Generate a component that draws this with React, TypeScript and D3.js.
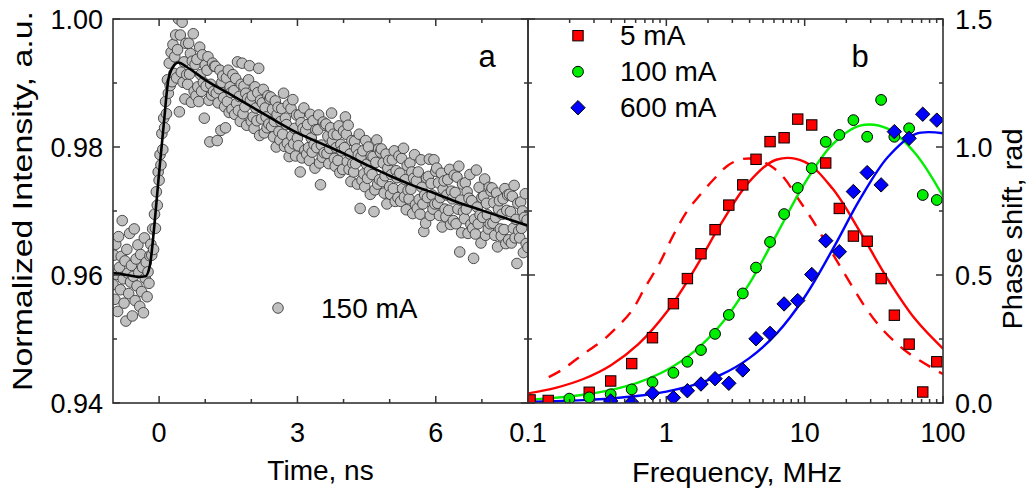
import React from "react";
import * as d3 from "d3";

// ---------- Panel a: time-resolved intensity (150 mA) ----------
const timeStart = -1;
const timeStep = 0.02;
const intensity150mA = [
  0.9585, 0.9631, 0.9562, 0.9648, 0.9601, 0.9543, 0.9660, 0.9612, 0.9577, 0.9629,
  0.9685, 0.9594, 0.9556, 0.9622, 0.9528, 0.9640, 0.9603, 0.9571, 0.9665, 0.9589,
  0.9615, 0.9536, 0.9598, 0.9672, 0.9560, 0.9625, 0.9583, 0.9647, 0.9604, 0.9551,
  0.9632, 0.9574, 0.9612, 0.9541, 0.9658, 0.9595, 0.9620, 0.9566, 0.9605, 0.9587,
  0.9630,
  0.9648, 0.9631, 0.9672, 0.9640, 0.9695, 0.9673, 0.9730, 0.9709, 0.9761, 0.9748,
  0.9788, 0.9772, 0.9821, 0.9796, 0.9845, 0.9830, 0.9871, 0.9852, 0.9905, 0.9884,
  0.9931, 0.9896, 0.9948, 0.9902, 0.9960, 0.9915, 0.9941, 0.9975, 0.9908, 0.9952,
  1.0000, 0.9855, 0.9975, 0.9917, 0.9995, 0.9901, 0.9933, 0.9875, 0.9962, 0.9913,
  0.9898, 0.9962, 0.9914, 0.9946, 0.9870, 0.9934, 0.9977, 0.9887, 0.9929, 0.9880,
  0.9937, 0.9894, 0.9871, 0.9956, 0.9913, 0.9887, 0.9944, 0.9901, 0.9845, 0.9928,
  0.9895, 0.9920, 0.9941, 0.9873, 0.9808, 0.9898, 0.9881, 0.9931, 0.9887, 0.9926,
  0.9926, 0.9884, 0.9810, 0.9869, 0.9891, 0.9920, 0.9826, 0.9901, 0.9911, 0.9877,
  0.9863, 0.9830, 0.9908, 0.9871, 0.9920, 0.9854, 0.9894, 0.9885, 0.9859, 0.9913,
  0.9888, 0.9851, 0.9907, 0.9868, 0.9933, 0.9857, 0.9879, 0.9840, 0.9898, 0.9931,
  0.9852, 0.9895, 0.9863, 0.9884, 0.9834, 0.9876, 0.9905, 0.9927, 0.9873, 0.9840,
  0.9880, 0.9847, 0.9829, 0.9894, 0.9861, 0.9841, 0.9885, 0.9923, 0.9818, 0.9873,
  0.9844, 0.9869, 0.9890, 0.9822, 0.9861, 0.9847, 0.9830, 0.9880, 0.9836, 0.9875,
  0.9878, 0.9832, 0.9859, 0.9816, 0.9840, 0.9872, 0.9800, 0.9851, 0.9862, 0.9824,
  0.9811, 0.9840, 0.9860, 0.9820, 0.9884, 0.9801, 0.9845, 0.9835, 0.9806, 0.9866,
  0.9785, 0.9798, 0.9860, 0.9817, 0.9874, 0.9805, 0.9829, 0.9786, 0.9850, 0.9814,
  0.9802, 0.9850, 0.9761, 0.9838, 0.9783, 0.9829, 0.9861, 0.9795, 0.9826, 0.9789,
  0.9835, 0.9799, 0.9779, 0.9851, 0.9814, 0.9792, 0.9841, 0.9804, 0.9767, 0.9827,
  0.9799, 0.9827, 0.9850, 0.9775, 0.9741, 0.9803, 0.9784, 0.9839, 0.9791, 0.9834,
  0.9836, 0.9790, 0.9817, 0.9774, 0.9798, 0.9830, 0.9853, 0.9809, 0.9820, 0.9782,
  0.9770, 0.9799, 0.9819, 0.9779, 0.9833, 0.9760, 0.9804, 0.9794, 0.9765, 0.9825,
  0.9799, 0.9847, 0.9820, 0.9777, 0.9834, 0.9765, 0.9789, 0.9746, 0.9810, 0.9774,
  0.9761, 0.9809, 0.9774, 0.9797, 0.9742, 0.9788, 0.9820, 0.9704, 0.9785, 0.9748,
  0.9794, 0.9758, 0.9738, 0.9810, 0.9773, 0.9751, 0.9800, 0.9763, 0.9726, 0.9786,
  0.9757, 0.9785, 0.9699, 0.9733, 0.9776, 0.9811, 0.9742, 0.9797, 0.9749, 0.9792,
  0.9797, 0.9746, 0.9775, 0.9728, 0.9755, 0.9789, 0.9711, 0.9767, 0.9779, 0.9738,
  0.9726, 0.9757, 0.9780, 0.9735, 0.9794, 0.9715, 0.9763, 0.9752, 0.9721, 0.9786,
  0.9759, 0.9715, 0.9782, 0.9735, 0.9798, 0.9722, 0.9749, 0.9702, 0.9771, 0.9732,
  0.9719, 0.9775, 0.9734, 0.9761, 0.9696, 0.9751, 0.9788, 0.9710, 0.9747, 0.9704,
  0.9761, 0.9718, 0.9695, 0.9780, 0.9737, 0.9711, 0.9668, 0.9725, 0.9681, 0.9752,
  0.9721, 0.9754, 0.9781, 0.9693, 0.9743, 0.9725, 0.9703, 0.9780, 0.9711, 0.9762,
  0.9767, 0.9712, 0.9744, 0.9693, 0.9721, 0.9759, 0.9675, 0.9734, 0.9747, 0.9703,
  0.9691, 0.9725, 0.9749, 0.9701, 0.9765, 0.9679, 0.9731, 0.9719, 0.9685, 0.9756,
  0.9729, 0.9680, 0.9753, 0.9703, 0.9770, 0.9636, 0.9717, 0.9666, 0.9742, 0.9699,
  0.9688, 0.9744, 0.9703, 0.9730, 0.9665, 0.9720, 0.9757, 0.9679, 0.9716, 0.9673,
  0.9626, 0.9687, 0.9664, 0.9764, 0.9706, 0.9680, 0.9737, 0.9694, 0.9650, 0.9721,
  0.9690, 0.9723, 0.9750, 0.9662, 0.9712, 0.9694, 0.9672, 0.9737, 0.9680, 0.9731,
  0.9736, 0.9681, 0.9713, 0.9662, 0.9690, 0.9728, 0.9644, 0.9703, 0.9716, 0.9672,
  0.9661, 0.9695, 0.9719, 0.9671, 0.9735, 0.9649, 0.9701, 0.9725, 0.9655, 0.9726,
  0.9699, 0.9650, 0.9723, 0.9673, 0.9740, 0.9658, 0.9687, 0.9618, 0.9712, 0.9669,
  0.9658, 0.9714, 0.9673, 0.9700, 0.9635, 0.9690, 0.9727, 0.9649, 0.9686, 0.9643,
];

const fitTime = [-1.0, -0.7, -0.45, -0.3, -0.2, -0.1, 0.0, 0.1, 0.2, 0.3, 0.42, 0.6, 1.0, 1.5, 2.0, 2.5, 3.0, 3.5, 4.0, 4.5, 5.0, 5.5, 6.0, 6.5, 7.0, 7.5, 8.0];
const fitIntensity = [0.9603, 0.96, 0.9597, 0.9598, 0.9615, 0.968, 0.976, 0.9835, 0.9905, 0.9925, 0.9932, 0.9925, 0.9905, 0.9884, 0.9863, 0.9842, 0.9822, 0.9806, 0.979, 0.9772, 0.9755, 0.974, 0.9727, 0.9713, 0.9701, 0.9689, 0.9677];

const timeMajorTicks = [0, 3, 6];
const timeMinorTicks = [1, 2, 4, 5, 7];
const intensityMajorTicks = [0.94, 0.96, 0.98, 1.0];
const intensityMinorTicks = [0.95, 0.97, 0.99];

// ---------- Panel b: phase shift vs frequency ----------
const freq5mA = [0.1035, 0.14, 0.277, 0.396, 0.562, 0.794, 1.125, 1.42, 1.78, 2.25, 2.83, 3.57, 4.45, 5.62, 7.1, 8.91, 11.25, 14.2, 17.8, 22.5, 28.3, 35.7, 44.5, 56.9, 71.4, 90.2];
const phase5mA = [0.012, 0.01, 0.042, 0.086, 0.154, 0.255, 0.388, 0.486, 0.583, 0.677, 0.773, 0.852, 0.952, 1.021, 1.036, 1.109, 1.086, 0.9375, 0.76, 0.652, 0.632, 0.486, 0.343, 0.23, 0.043, 0.161];

const freq100mA = [0.199, 0.277, 0.396, 0.562, 0.794, 1.125, 1.42, 1.78, 2.25, 2.83, 3.57, 4.45, 5.62, 7.1, 8.91, 11.25, 14.2, 17.8, 22.5, 28.3, 35.7, 44.5, 56.9, 71.4, 90.2];
const phase100mA = [0.017, 0.022, 0.034, 0.053, 0.081, 0.118, 0.161, 0.207, 0.27, 0.344, 0.428, 0.529, 0.629, 0.738, 0.84, 0.917, 1.02, 1.047, 1.105, 1.04, 1.184, 1.04, 1.073, 0.8125, 0.793];

const freq600mA = [0.396, 0.562, 0.794, 1.125, 1.42, 1.78, 2.25, 2.83, 3.57, 4.45, 5.62, 7.1, 8.91, 11.25, 14.2, 17.8, 22.5, 28.3, 35.7, 44.5, 56.9, 71.4, 90.2];
const phase600mA = [0.008, 0.003, 0.038, 0.021, 0.048, 0.074, 0.095, 0.077, 0.129, 0.251, 0.272, 0.387, 0.4, 0.502, 0.634, 0.591, 0.826, 0.9, 0.852, 1.06, 1.034, 1.128, 1.105];

const fitFreq = [0.1, 0.1585, 0.2512, 0.3981, 0.631, 1, 1.585, 2.512, 3.981, 6.31, 10, 15.85, 25.12, 39.81, 63.1, 100];
const fit5mA = [0.0375, 0.0594, 0.0938, 0.1478, 0.2309, 0.3533, 0.518, 0.7044, 0.8646, 0.9512, 0.942, 0.8385, 0.6695, 0.4843, 0.3269, 0.2125];
const fit100mA = [0.0129, 0.0204, 0.0323, 0.0512, 0.081, 0.1279, 0.2007, 0.3105, 0.4665, 0.6607, 0.8579, 1.0091, 1.0833, 1.0717, 0.9748, 0.8073];
const fit600mA = [0.0045, 0.0071, 0.0112, 0.0178, 0.0282, 0.0446, 0.0706, 0.1115, 0.1754, 0.273, 0.4141, 0.5979, 0.7962, 0.96, 1.0507, 1.0537];

const dashFreq = [0.1413, 0.1778, 0.2239, 0.2818, 0.3548, 0.4467, 0.5623, 0.7079, 0.8913, 1.122, 1.413, 1.778, 2.239, 2.818, 3.548, 4.467, 5.623, 7.079, 8.913, 11.22, 14.13, 17.78, 22.39, 28.18, 35.48, 44.67, 56.23, 70.79, 89.13, 100];
const dash5mA = [0.101, 0.131, 0.171, 0.21, 0.249, 0.3, 0.36, 0.455, 0.545, 0.655, 0.749, 0.817, 0.878, 0.93, 0.953, 0.952, 0.928, 0.88, 0.8, 0.72, 0.63, 0.54, 0.45, 0.365, 0.295, 0.24, 0.195, 0.16, 0.128, 0.113];

const freqMajorTicks = [0.1, 1, 10, 100];
const freqDecades = [0.1, 1, 10];
const freqMinorMultipliers = [2, 3, 4, 5, 6, 7, 8, 9];
const phaseMajorTicks = [0.0, 0.5, 1.0, 1.5];
const phaseMinorTicks = [0.25, 0.75, 1.25];

const seriesLabels = ["5 mA", "100 mA", "600 mA"];
const seriesColors = ["#ff0000", "#00ee00", "#0000ff"];

// ---------- layout ----------
const W = 1030;
const H = 493;
const TOP = 19;
const BOTTOM = 403;
const A_LEFT = 113;
const MID = 528;
const B_RIGHT = 943;
const FONT = "'Liberation Sans', Arial, Helvetica, sans-serif";
const AXIS = "#333333";
const MAJ = 7;
const MIN = 4;

function diamond(cx: number, cy: number, r: number) {
  return `M${cx},${cy - r}L${cx + r},${cy}L${cx},${cy + r}L${cx - r},${cy}Z`;
}

export default function App() {
  const xA = d3.scaleLinear().domain([-1, 8]).range([A_LEFT, MID]);
  const yA = d3.scaleLinear().domain([0.94, 1.0]).range([BOTTOM, TOP]);
  const xB = d3.scaleLog().domain([0.1, 100]).range([MID, B_RIGHT]);
  const yB = d3.scaleLinear().domain([0, 1.5]).range([BOTTOM, TOP]);

  const fitLineA = d3
    .line<number>()
    .x((_, i) => xA(fitTime[i]))
    .y((d) => yA(d))
    .curve(d3.curveMonotoneX)(fitIntensity);

  const lineB = (fs: number[], vals: number[]) =>
    d3
      .line<number>()
      .x((_, i) => xB(fs[i]))
      .y((d) => yB(d))
      .curve(d3.curveCatmullRom)(vals) as string;

  const freqMinor: number[] = [];
  freqDecades.forEach((d) => freqMinorMultipliers.forEach((m) => freqMinor.push(d * m)));

  const tickLines: any[] = [];
  let k = 0;
  const tl = (x1: number, y1: number, x2: number, y2: number) =>
    tickLines.push(<line key={"t" + k++} x1={x1} y1={y1} x2={x2} y2={y2} stroke={AXIS} strokeWidth={1.5} />);

  timeMajorTicks.forEach((t) => {
    tl(xA(t), BOTTOM, xA(t), BOTTOM - MAJ);
    tl(xA(t), TOP, xA(t), TOP + MAJ);
  });
  timeMinorTicks.forEach((t) => {
    tl(xA(t), BOTTOM, xA(t), BOTTOM - MIN);
    tl(xA(t), TOP, xA(t), TOP + MIN);
  });
  intensityMajorTicks.forEach((v) => {
    tl(A_LEFT, yA(v), A_LEFT + MAJ, yA(v));
    tl(MID, yA(v), MID - MAJ, yA(v));
  });
  intensityMinorTicks.forEach((v) => {
    tl(A_LEFT, yA(v), A_LEFT + MIN, yA(v));
    tl(MID, yA(v), MID - MIN, yA(v));
  });
  freqMajorTicks.forEach((f) => {
    tl(xB(f), BOTTOM, xB(f), BOTTOM - MAJ);
    tl(xB(f), TOP, xB(f), TOP + MAJ);
  });
  freqMinor.forEach((f) => {
    tl(xB(f), BOTTOM, xB(f), BOTTOM - MIN);
    tl(xB(f), TOP, xB(f), TOP + MIN);
  });
  phaseMajorTicks.forEach((v) => {
    tl(B_RIGHT, yB(v), B_RIGHT - MAJ, yB(v));
    tl(MID, yB(v), MID + MAJ, yB(v));
  });
  phaseMinorTicks.forEach((v) => {
    tl(B_RIGHT, yB(v), B_RIGHT - MIN, yB(v));
    tl(MID, yB(v), MID + MIN, yB(v));
  });

  const SQ = 5.2;
  const CR = 5.4;
  const DR = 7.2;

  const marker = (type: number, cx: number, cy: number, key: string) => {
    if (type === 0)
      return <rect key={key} x={cx - SQ} y={cy - SQ} width={2 * SQ} height={2 * SQ} fill={seriesColors[0]} stroke="#000" strokeWidth={1} />;
    if (type === 1) return <circle key={key} cx={cx} cy={cy} r={CR} fill={seriesColors[1]} stroke="#000" strokeWidth={1} />;
    return <path key={key} d={diamond(cx, cy, DR)} fill={seriesColors[2]} stroke="#000" strokeWidth={1} />;
  };

  const seriesF = [freq5mA, freq100mA, freq600mA];
  const seriesP = [phase5mA, phase100mA, phase600mA];
  const fits = [fit5mA, fit100mA, fit600mA];

  const tickFont = 27;

  return (
    <svg width={W} height={H} style={{ position: "absolute", left: 0, top: 0, background: "#fff" }} fontFamily={FONT}>
      <defs>
        <clipPath id="clipA">
          <rect x={A_LEFT} y={TOP} width={MID - A_LEFT} height={BOTTOM - TOP} />
        </clipPath>
        <clipPath id="clipB">
          <rect x={MID} y={TOP} width={B_RIGHT - MID} height={BOTTOM - TOP} />
        </clipPath>
      </defs>
      <rect x={0} y={0} width={W} height={H} fill="#fff" />

      <g clipPath="url(#clipA)">
        {intensity150mA.map((v, i) => (
          <circle key={"a" + i} cx={xA(timeStart + i * timeStep)} cy={yA(v)} r={5.3} fill="#c0c0c0" stroke="#3c3c3c" strokeWidth={0.9} />
        ))}
        <path d={fitLineA as string} fill="none" stroke="#000" strokeWidth={2.6} />
      </g>

      <g clipPath="url(#clipB)">
        <path d={lineB(dashFreq, dash5mA)} fill="none" stroke={seriesColors[0]} strokeWidth={2.4} strokeDasharray="13,10" />
        {fits.map((f, s) => (
          <path key={"fit" + s} d={lineB(fitFreq, f)} fill="none" stroke={seriesColors[s]} strokeWidth={2.4} />
        ))}
        {seriesF.map((fs, s) => fs.map((f, i) => marker(s, xB(f), yB(seriesP[s][i]), `m${s}-${i}`)))}
      </g>

      <rect x={A_LEFT} y={TOP} width={MID - A_LEFT} height={BOTTOM - TOP} fill="none" stroke={AXIS} strokeWidth={1.6} />
      <rect x={MID} y={TOP} width={B_RIGHT - MID} height={BOTTOM - TOP} fill="none" stroke={AXIS} strokeWidth={1.6} />
      {tickLines}

      {intensityMajorTicks.map((v) => (
        <text key={"yl" + v} x={103} y={yA(v) + 10} textAnchor="end" fontSize={tickFont} fill="#000">
          {v.toFixed(2)}
        </text>
      ))}
      {phaseMajorTicks.map((v) => (
        <text key={"yr" + v} x={955} y={yB(v) + 10} textAnchor="start" fontSize={tickFont} fill="#000">
          {v.toFixed(1)}
        </text>
      ))}
      {timeMajorTicks.map((t) => (
        <text key={"xa" + t} x={xA(t)} y={442} textAnchor="middle" fontSize={tickFont} fill="#000">
          {t}
        </text>
      ))}
      {freqMajorTicks.map((f) => (
        <text key={"xb" + f} x={xB(f)} y={442} textAnchor="middle" fontSize={tickFont} fill="#000">
          {String(f)}
        </text>
      ))}

      <text x={(A_LEFT + MID) / 2} y={480} textAnchor="middle" fontSize={28} fill="#000">
        Time, ns
      </text>
      <text x={737} y={482} textAnchor="middle" fontSize={28} textLength={210} lengthAdjust="spacingAndGlyphs" fill="#000">
        Frequency, MHz
      </text>
      <text transform="translate(32,201) rotate(-90)" textAnchor="middle" fontSize={28} textLength={380} lengthAdjust="spacingAndGlyphs" fill="#000">
        Normalized Intensity, a.u.
      </text>
      <text transform="translate(1022,229) rotate(-90)" textAnchor="middle" fontSize={27} textLength={201} lengthAdjust="spacingAndGlyphs" fill="#000">
        Phase shift, rad
      </text>

      <text x={487} y={67} textAnchor="middle" fontSize={31} fill="#000">
        a
      </text>
      <text x={860} y={67} textAnchor="middle" fontSize={31} fill="#000">
        b
      </text>

      <circle cx={278} cy={308} r={5.3} fill="#c0c0c0" stroke="#3c3c3c" strokeWidth={0.9} />
      <text x={321} y={318} fontSize={28} fill="#000">
        150 mA
      </text>

      {seriesLabels.map((lab, s) => (
        <g key={"lg" + s}>
          {marker(s, 578, 35.7 + s * 36, "lgm" + s)}
          <text x={620} y={45 + s * 36} fontSize={28} fill="#000">
            {lab}
          </text>
        </g>
      ))}
    </svg>
  );
}
